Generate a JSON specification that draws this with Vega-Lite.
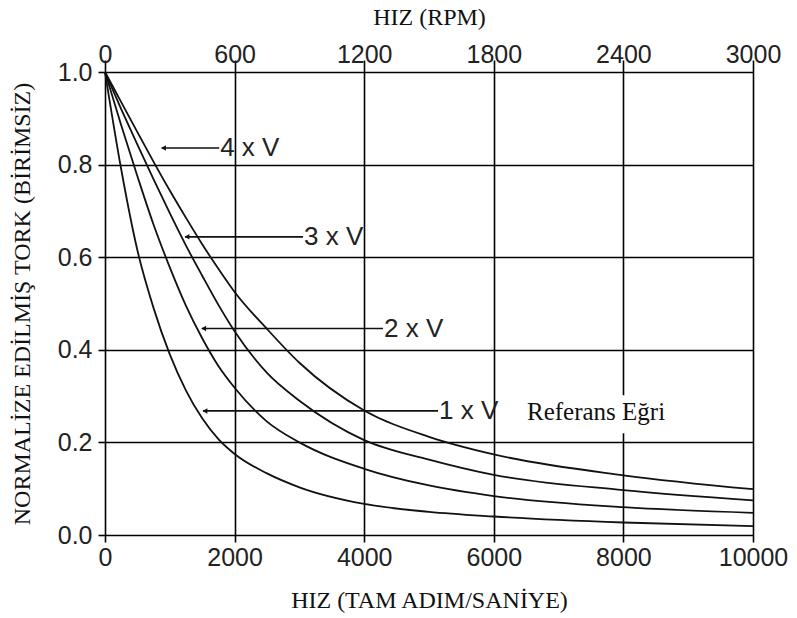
{
  "$schema": "https://vega.github.io/schema/vega-lite/v6.json",
  "width": 648,
  "height": 463,
  "autosize": {"type": "none"},
  "padding": {"left": 105, "top": 72, "right": 44, "bottom": 83},
  "background": "white",
  "config": {
    "view": {"stroke": null},
    "axis": {
      "labelFont": "Liberation Sans",
      "labelFontSize": 25,
      "labelColor": "#222",
      "titleFont": "Liberation Serif",
      "titleFontSize": 24,
      "titleFontWeight": "normal",
      "titleColor": "#111",
      "tickColor": "#000",
      "tickWidth": 1.6,
      "gridColor": "#000",
      "gridOpacity": 1,
      "gridWidth": 1.6,
      "domain": false,
      "labelFlush": false,
      "labelOverlap": false
    }
  },
  "datasets": {
    "curves": [
      {"curve": "1xV", "v": 0, "t": 1.0},
      {"curve": "1xV", "v": 250, "t": 0.79},
      {"curve": "1xV", "v": 500, "t": 0.615},
      {"curve": "1xV", "v": 750, "t": 0.49},
      {"curve": "1xV", "v": 1000, "t": 0.39},
      {"curve": "1xV", "v": 1250, "t": 0.312},
      {"curve": "1xV", "v": 1500, "t": 0.252},
      {"curve": "1xV", "v": 1750, "t": 0.207},
      {"curve": "1xV", "v": 2000, "t": 0.175},
      {"curve": "1xV", "v": 2500, "t": 0.133},
      {"curve": "1xV", "v": 3000, "t": 0.103},
      {"curve": "1xV", "v": 4000, "t": 0.067},
      {"curve": "1xV", "v": 5000, "t": 0.05},
      {"curve": "1xV", "v": 6000, "t": 0.04},
      {"curve": "1xV", "v": 8000, "t": 0.027},
      {"curve": "1xV", "v": 10000, "t": 0.019},
      {"curve": "2xV", "v": 0, "t": 1.0},
      {"curve": "2xV", "v": 250, "t": 0.885},
      {"curve": "2xV", "v": 500, "t": 0.775},
      {"curve": "2xV", "v": 750, "t": 0.67},
      {"curve": "2xV", "v": 1000, "t": 0.578},
      {"curve": "2xV", "v": 1250, "t": 0.495},
      {"curve": "2xV", "v": 1500, "t": 0.425},
      {"curve": "2xV", "v": 1750, "t": 0.365},
      {"curve": "2xV", "v": 2000, "t": 0.318},
      {"curve": "2xV", "v": 2500, "t": 0.245},
      {"curve": "2xV", "v": 3000, "t": 0.2},
      {"curve": "2xV", "v": 4000, "t": 0.143},
      {"curve": "2xV", "v": 5000, "t": 0.107},
      {"curve": "2xV", "v": 6000, "t": 0.084},
      {"curve": "2xV", "v": 8000, "t": 0.06},
      {"curve": "2xV", "v": 10000, "t": 0.048},
      {"curve": "3xV", "v": 0, "t": 1.0},
      {"curve": "3xV", "v": 250, "t": 0.92},
      {"curve": "3xV", "v": 500, "t": 0.843},
      {"curve": "3xV", "v": 750, "t": 0.768},
      {"curve": "3xV", "v": 1000, "t": 0.695},
      {"curve": "3xV", "v": 1250, "t": 0.625},
      {"curve": "3xV", "v": 1500, "t": 0.56},
      {"curve": "3xV", "v": 1750, "t": 0.497},
      {"curve": "3xV", "v": 2000, "t": 0.44},
      {"curve": "3xV", "v": 2500, "t": 0.35},
      {"curve": "3xV", "v": 3000, "t": 0.29},
      {"curve": "3xV", "v": 4000, "t": 0.205},
      {"curve": "3xV", "v": 5000, "t": 0.163},
      {"curve": "3xV", "v": 6000, "t": 0.13},
      {"curve": "3xV", "v": 8000, "t": 0.097},
      {"curve": "3xV", "v": 10000, "t": 0.075},
      {"curve": "4xV", "v": 0, "t": 1.0},
      {"curve": "4xV", "v": 250, "t": 0.935},
      {"curve": "4xV", "v": 500, "t": 0.87},
      {"curve": "4xV", "v": 750, "t": 0.806},
      {"curve": "4xV", "v": 1000, "t": 0.744},
      {"curve": "4xV", "v": 1250, "t": 0.685},
      {"curve": "4xV", "v": 1500, "t": 0.628},
      {"curve": "4xV", "v": 1750, "t": 0.575},
      {"curve": "4xV", "v": 2000, "t": 0.525},
      {"curve": "4xV", "v": 2500, "t": 0.445},
      {"curve": "4xV", "v": 3000, "t": 0.372},
      {"curve": "4xV", "v": 4000, "t": 0.269},
      {"curve": "4xV", "v": 5000, "t": 0.212},
      {"curve": "4xV", "v": 6000, "t": 0.174},
      {"curve": "4xV", "v": 8000, "t": 0.129},
      {"curve": "4xV", "v": 10000, "t": 0.099}
    ],
    "annot": [
      {"label": "4 x V", "v": 873, "v2": 1762, "t": 0.836},
      {"label": "3 x V", "v": 1235, "v2": 3056, "t": 0.644},
      {"label": "2 x V", "v": 1492, "v2": 4290, "t": 0.446},
      {"label": "1 x V", "v": 1512, "v2": 5139, "t": 0.268}
    ],
    "ref": [
      {"label": "Referans Eğri", "v": 6450, "v2": 8750, "t": 0.22, "t2": 0.302, "tc": 0.265}
    ]
  },
  "layer": [
    {
      "data": {"name": "curves"},
      "mark": {"type": "line", "interpolate": "monotone", "stroke": "#111", "strokeWidth": 1.8},
      "encoding": {
        "x": {
          "field": "v", "type": "quantitative",
          "scale": {"domain": [0, 10000], "nice": false, "zero": false},
          "axis": {
            "orient": "bottom", "values": [0, 2000, 4000, 6000, 8000, 10000], "format": "d",
            "grid": true, "tickSize": 7, "labelPadding": 3,
            "title": "HIZ (TAM ADIM/SANİYE)", "titlePadding": 18
          }
        },
        "y": {
          "field": "t", "type": "quantitative",
          "scale": {"domain": [0, 1], "nice": false, "zero": false},
          "title": "NORMALİZE EDİLMİŞ TORK (BİRİMSİZ)",
          "axis": {
            "values": [0, 0.2, 0.4, 0.6, 0.8, 1.0], "format": ".1f",
            "grid": true, "tickSize": 7, "labelPadding": 6, "titlePadding": 23
          }
        },
        "detail": {"field": "curve", "type": "nominal"}
      }
    },
    {
      "data": {"name": "ref"},
      "mark": {"type": "rect", "fill": "white", "stroke": null},
      "encoding": {
        "x": {"field": "v", "type": "quantitative", "axis": null},
        "x2": {"field": "v2"},
        "y": {"field": "t", "type": "quantitative", "title": "NORMALİZE EDİLMİŞ TORK (BİRİMSİZ)"},
        "y2": {"field": "t2"}
      }
    },
    {
      "data": {"name": "annot"},
      "mark": {"type": "rule", "stroke": "#111", "strokeWidth": 1.6},
      "encoding": {
        "x": {
          "field": "v", "type": "quantitative",
          "axis": {
            "orient": "top", "values": [0, 2000, 4000, 6000, 8000, 10000],
            "labelExpr": "format(datum.value * 0.3, 'd')",
            "grid": false, "tickSize": 12, "labelPadding": -7,
            "title": "HIZ (RPM)", "titlePadding": 13
          }
        },
        "x2": {"field": "v2"},
        "y": {"field": "t", "type": "quantitative", "title": "NORMALİZE EDİLMİŞ TORK (BİRİMSİZ)"}
      }
    },
    {
      "data": {"name": "annot"},
      "mark": {"type": "point", "shape": "triangle-left", "filled": true, "fill": "#111", "size": 30, "opacity": 1, "xOffset": 2},
      "encoding": {
        "x": {"field": "v", "type": "quantitative", "axis": null},
        "y": {"field": "t", "type": "quantitative", "title": "NORMALİZE EDİLMİŞ TORK (BİRİMSİZ)"}
      }
    },
    {
      "data": {"name": "annot"},
      "mark": {"type": "text", "align": "left", "baseline": "middle", "dx": 1, "font": "Liberation Sans", "fontSize": 26, "fill": "#222"},
      "encoding": {
        "x": {"field": "v2", "type": "quantitative", "axis": null},
        "y": {"field": "t", "type": "quantitative", "title": "NORMALİZE EDİLMİŞ TORK (BİRİMSİZ)"},
        "text": {"field": "label"}
      }
    },
    {
      "data": {"name": "ref"},
      "mark": {"type": "text", "align": "left", "baseline": "middle", "dx": 4, "font": "Liberation Serif", "fontSize": 25, "fill": "#111"},
      "encoding": {
        "x": {"field": "v", "type": "quantitative", "axis": null},
        "y": {"field": "tc", "type": "quantitative", "title": "NORMALİZE EDİLMİŞ TORK (BİRİMSİZ)"},
        "text": {"field": "label"}
      }
    }
  ],
  "resolve": {"axis": {"x": "independent"}}
}
